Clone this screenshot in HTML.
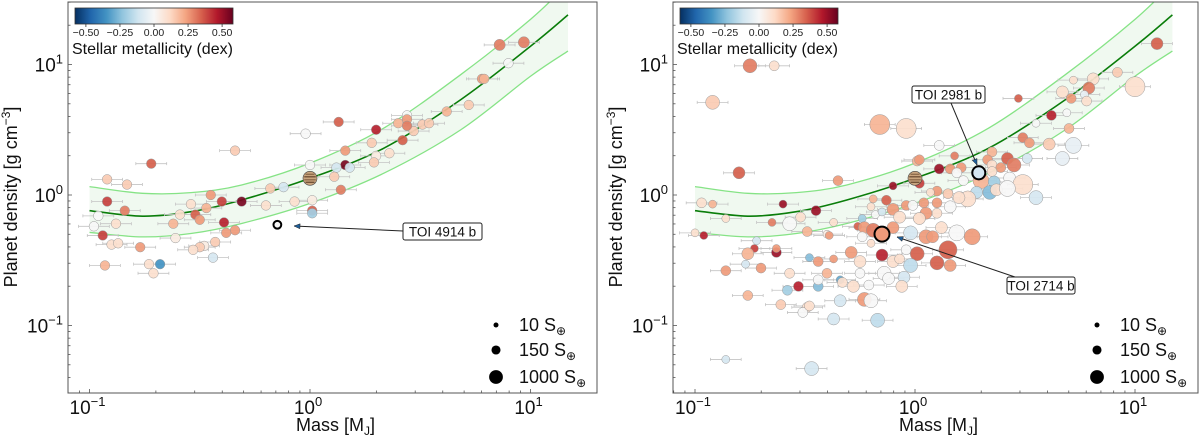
<!DOCTYPE html>
<html><head><meta charset="utf-8">
<style>
html,body{margin:0;padding:0;background:#fff;}
svg{display:block;font-family:"Liberation Sans","DejaVu Sans",sans-serif;}
</style></head>
<body>
<svg id="chart" width="1200" height="437" viewBox="0 0 1200 437" xmlns="http://www.w3.org/2000/svg">
<defs>
<linearGradient id="cbgrad" x1="0" x2="1" y1="0" y2="0">
<stop offset="0" stop-color="#053061"/><stop offset="0.1" stop-color="#2166ac"/><stop offset="0.2" stop-color="#4393c3"/><stop offset="0.3" stop-color="#92c5de"/><stop offset="0.4" stop-color="#d1e5f0"/><stop offset="0.5" stop-color="#f7f7f7"/><stop offset="0.6" stop-color="#fddbc7"/><stop offset="0.7" stop-color="#f4a582"/><stop offset="0.8" stop-color="#d6604d"/><stop offset="0.9" stop-color="#b2182b"/><stop offset="1" stop-color="#67001f"/>
</linearGradient>
<clipPath id="clipL"><rect x="68" y="2" width="529" height="391"/></clipPath>
<clipPath id="clipR"><rect x="673" y="2" width="525" height="391"/></clipPath>
</defs>
</svg>
<script>
// ---- model curve (log10 mass, log10 density) ----
const curveMassLog = [-1.0,-0.76,-0.54,-0.31,0.0,0.335,0.684,1.0,1.17];
const curveMidLog  = [-0.12,-0.162,-0.128,-0.038,0.128,0.359,0.731,1.14,1.38];
const curveUpLog   = [0.064,0.013,0.018,0.077,0.244,0.513,0.923,1.346,1.62];
const curveLowLog  = [-0.287,-0.321,-0.295,-0.218,-0.064,0.167,0.5,0.91,1.103];
// ---- left panel sample ----
const leftMassLog = [0.86,0.97,0.90,0.78,0.79,0.72,0.62,0.44,0.44,0.40,
 0.51,0.54,0.47,0.44,0.42,0.13,0.30,-0.02,0.28,0.16,
 0.36,0.30,0.29,0.16,0.12,0.18,0.00,0.11,0.14,-0.18,
 -0.12,-0.07,0.01,0.01,0.01,-0.20,-0.31,-0.40,-0.45,-0.47,
 -0.54,-0.59,-0.52,-0.50,-0.39,-0.62,-0.72,-0.34,-0.92,-0.83,
 -0.92,-0.84,-0.96,-0.88,-0.98,-0.94,-0.61,-0.34,-0.38,-0.90,
 -0.87,-0.77,-0.48,-0.43,-0.50,-0.53,-0.44,-0.93,-0.73,-0.68,-0.71];
const leftDensityLog = [1.15,1.17,1.01,0.89,0.89,0.69,0.64,0.61,0.58,0.55,
 0.54,0.55,0.49,0.53,0.42,0.56,0.50,0.47,0.40,0.34,
 0.32,0.30,0.25,0.23,0.21,0.21,0.23,0.14,0.04,0.05,
 0.06,-0.05,-0.04,-0.12,-0.14,-0.08,-0.05,-0.05,0.00,-0.10,
 -0.07,-0.15,-0.15,-0.19,-0.21,-0.22,0.24,0.34,0.12,0.08,
 -0.05,-0.12,-0.16,-0.22,-0.24,-0.31,-0.33,-0.27,-0.29,-0.38,
 -0.37,-0.40,-0.39,-0.36,-0.40,-0.42,-0.48,-0.54,-0.53,-0.53,-0.60];
const leftFeH = [.3,.3,0,.25,.2,.15,.2,0,.25,.2,
 .15,.15,.15,.3,.35,.35,.45,0,.15,.25,
 .1,.05,.15,.55,-.1,-.1,0,.15,.3,.15,
 -.1,.1,.05,.35,-.2,.1,.55,.4,.25,.2,
 .1,.1,.35,.25,.45,.2,.35,.15,.15,.15,
 .4,.3,0,.1,0,.4,.05,.25,.25,.1,
 .1,.25,.05,.15,.15,.1,-.1,.2,.1,-.35,.1];
const leftFlux = [400,400,200,200,200,200,200,200,200,200,
 200,200,200,200,200,200,200,200,200,200,
 200,200,200,200,200,200,200,200,200,200,
 200,200,200,200,200,200,200,200,200,200,
 200,200,200,200,200,200,200,200,200,200,
 200,200,200,200,200,200,200,200,200,200,
 200,200,200,200,200,200,200,200,200,200,200];
// ---- right panel sample ----
const rightMassLog = [-0.92,-0.16,-0.04,-0.80,-0.35,-0.10,0.01,-0.97,-0.92,-0.60,
 -0.45,-0.86,-0.65,-0.57,-0.52,-0.37,-1.00,-0.96,-0.49,-0.40,
 -0.39,-0.72,-0.73,-0.76,-0.63,-0.63,-0.77,-0.70,-0.86,-0.48,
 -0.44,-0.37,-0.57,-0.53,-0.58,-0.44,-0.44,-0.40,-0.34,-0.33,
 -0.28,-0.76,-0.61,-0.49,-0.51,-0.34,-0.23,-0.20,-0.37,-0.17,
 -0.86,-0.47,-0.19,-0.13,-0.10,-0.20,-0.18,-0.15,-0.24,-0.26,
 -0.23,-0.19,-0.10,-0.07,-0.04,-0.01,0.02,-0.02,0.05,-0.15,
 -0.04,0.01,-0.29,-0.25,-0.24,-0.20,-0.10,-0.07,-0.02,-0.14,
 -0.05,-0.06,-0.12,-0.25,-0.21,1.10,0.92,0.81,0.72,1.00,
 0.79,0.67,0.77,0.78,0.71,0.47,0.62,0.69,0.55,0.70,
 0.49,0.52,0.61,0.72,0.67,0.51,0.11,0.18,0.02,0.11,
 0.16,0.21,0.19,0.22,0.30,0.35,0.33,0.35,0.42,0.45,
 0.39,0.35,0.43,0.49,0.36,0.34,0.37,0.28,0.24,0.20,
 0.15,0.10,0.07,0.02,0.55,0.42,0.10,0.04,0.10,0.16,
 0.05,0.02,0.12,0.08,0.19,0.26,0.15,0.10,0.16,-0.75,-0.64,-0.48];
const rightDensityLog = [0.71,0.54,0.51,0.17,0.11,0.07,0.26,-0.06,-0.07,-0.07,
 -0.12,-0.18,-0.21,-0.22,-0.17,-0.21,-0.29,-0.31,-0.28,-0.30,
 -0.31,-0.35,-0.41,-0.45,-0.44,-0.41,-0.53,-0.56,-0.58,-0.48,
 -0.51,-0.49,-0.60,-0.70,-0.73,-0.70,-0.65,-0.60,-0.65,-0.67,
 -0.70,-0.77,-0.84,-0.86,-0.90,-0.81,-0.80,-0.81,-0.95,-0.96,
 -1.26,-1.33,-0.03,-0.04,-0.11,-0.09,-0.15,-0.13,-0.18,-0.24,
 -0.25,-0.27,-0.25,-0.17,-0.08,-0.08,-0.18,-0.29,-0.32,-0.46,
 -0.42,-0.45,-0.44,-0.51,-0.32,-0.37,-0.51,-0.49,-0.54,-0.60,
 -0.63,-0.70,-0.64,-0.60,-0.69,1.16,0.94,0.89,0.88,0.83,
 0.82,0.79,0.77,0.72,0.74,0.74,0.61,0.63,0.55,0.51,
 0.44,0.40,0.39,0.38,0.28,0.28,0.38,0.30,0.27,0.20,
 0.20,0.21,0.17,0.11,0.11,0.33,0.27,0.23,0.28,0.23,
 0.21,0.18,0.13,0.08,0.10,0.02,0.04,0.02,-0.03,-0.02,
 0.01,0.03,0.02,0.09,-0.02,0.05,-0.06,-0.06,-0.14,-0.09,
 -0.14,-0.18,-0.25,-0.32,-0.29,-0.32,-0.42,-0.52,-0.54,0.99,0.99,-0.85];
const rightFeH = [.15,.2,.1,.35,.25,.5,.2,.1,.2,.5,
 .5,.1,.3,0,.1,.1,.1,.45,.2,.05,
 .25,-.1,.4,.2,.5,.25,-.1,.25,.25,-.25,
 .25,.25,.1,.45,-.2,-.25,0,.2,-.3,.1,
 .1,.2,.15,.1,0,-.1,.25,0,-.1,-.15,
 -.1,-.1,.2,.35,.25,.1,0,-.1,-.2,.35,
 .25,.3,.25,.1,.25,0,.1,-.1,.25,.45,
 0,.35,.25,.1,0,.1,.1,.1,-.15,0,
 -.1,.1,0,0,0,.35,.15,.1,.1,.1,
 .3,.1,-.05,.1,.25,.35,.45,0,0,.2,
 .3,.25,.15,-.05,-.05,-.1,0,.3,.25,.5,
 .25,.25,0,0,.2,.2,.25,.1,.35,.3,
 .25,.1,0,.1,-.2,-.25,.1,-.15,.1,.1,
 .15,.25,.1,.4,-.1,0,.25,.25,.1,0,
 .25,.1,.1,.25,0,.25,.35,.35,.25,.3,.1,.1];
const rightFlux = [1080,5400,5400,540,230,85,230,230,85,85,
 230,85,85,1080,230,85,85,85,230,85,
 85,85,85,540,230,85,85,230,230,85,
 230,85,230,230,230,230,230,230,85,230,
 540,230,230,230,230,540,1080,1080,540,1080,
 85,1080,85,230,540,85,85,85,85,85,
 540,1080,540,540,230,230,540,1080,1080,540,
 230,1080,540,540,230,85,540,230,1080,1080,
 540,540,540,230,230,540,230,540,85,5400,
 540,540,85,230,230,85,230,85,85,230,
 230,230,540,2000,1080,230,230,85,230,230,
 230,230,230,230,2000,230,230,230,540,1080,
 230,230,540,5400,540,1080,540,540,2000,540,
 230,230,85,230,1080,2000,230,230,230,540,
 540,540,540,540,2000,2000,3400,1080,540,1080,230,230];
// highlighted planets
const toiNames = ["TOI 4914 b","TOI 2714 b","TOI 2981 b"];
const toiMassLog = [-0.148,-0.15,0.29];
const toiDensityLog = [-0.228,-0.30,0.17];
const toiFeH = [0.0,0.25,-0.1];
const toiFlux = [40,1080,540];
const legendFlux = [10,150,1000];
const xTickExp = [-1,0,1];
const yTickExp = [-1,0,1];
const cbTicks = [-0.5,-0.25,0,0.25,0.5];

const NS="http://www.w3.org/2000/svg";
const svg=document.getElementById('chart');
function mk(tag,attrs,parent){const e=document.createElementNS(NS,tag);for(const k in attrs)e.setAttribute(k,attrs[k]);(parent||svg).appendChild(e);return e;}
const stops=[[0,[5,48,97]],[.1,[33,102,172]],[.2,[67,147,195]],[.3,[146,197,222]],[.4,[209,229,240]],[.5,[247,247,247]],[.6,[253,219,199]],[.7,[244,165,130]],[.8,[214,96,77]],[.9,[178,24,43]],[1,[103,0,31]]];
function cmap(v){let t=(v+0.58)/1.16;t=Math.max(0,Math.min(1,t));for(let i=1;i<stops.length;i++){if(t<=stops[i][0]){const a=stops[i-1],b=stops[i];const f=(t-a[0])/(b[0]-a[0]);const c=a[1].map((x,j)=>Math.round(x+(b[1][j]-x)*f));return `rgb(${c[0]},${c[1]},${c[2]})`;}}return 'rgb(103,0,31)';}
function rad(S){return 2.5*Math.pow(S/10,0.22);}
// Catmull-Rom smoothing into cubic bezier segments
function smooth(pts,start){
  let d=start?('M'+pts[0][0]+','+pts[0][1]):('L'+pts[0][0]+','+pts[0][1]);
  for(let i=0;i<pts.length-1;i++){
    const p0=pts[Math.max(0,i-1)],p1=pts[i],p2=pts[i+1],p3=pts[Math.min(pts.length-1,i+2)];
    const c1=[p1[0]+(p2[0]-p0[0])/6,p1[1]+(p2[1]-p0[1])/6];
    const c2=[p2[0]-(p3[0]-p1[0])/6,p2[1]-(p3[1]-p1[1])/6];
    d+=`C${c1[0]},${c1[1]} ${c2[0]},${c2[1]} ${p2[0]},${p2[1]}`;
  }
  return d;
}

function drawPanel(cfg,mass,rho,feh,flux,name){
  const X=lm=>cfg.x0+lm*cfg.xd, Y=lr=>195-lr*130.5;
  const g=mk('g',{'clip-path':`url(#${cfg.clip})`});
  
  
  const up=curveMassLog.map((m,i)=>[X(m),Y(curveUpLog[i])]);
  const lo=curveMassLog.map((m,i)=>[X(m),Y(curveLowLog[i])]);
  const mid=curveMassLog.map((m,i)=>[X(m),Y(curveMidLog[i])]);
  const band=mk('path',{d:smooth(up,true)+smooth(lo.slice().reverse(),false)+'Z',fill:'rgba(0,150,0,0.06)',stroke:'none'},g);
  
  
  [[up,'#86e386',1.3,'upper-bound-line'],[lo,'#86e386',1.3,'lower-bound-line'],[mid,'#0a7d0a',1.6,'model-line']].forEach(([pts,col,w,nm])=>{
    const p=mk('path',{d:smooth(pts,true),fill:'none',stroke:col,'stroke-width':w},g);
    
    
  });
  mass.forEach((m,i)=>{
    const e=0.07, y=Y(rho[i]);
    const eb=mk('path',{d:`M${X(m-e)},${y}H${X(m+e)}M${X(m-e)},${y-1.5}v3M${X(m+e)},${y-1.5}v3`,stroke:'#c4c4c4','stroke-width':0.8,fill:'none'},g);
    
    
  });
  mass.forEach((m,i)=>{
    const c=mk('circle',{cx:X(m),cy:Y(rho[i]),r:rad(flux[i]),fill:cmap(feh[i]),stroke:'#999','stroke-width':0.5,'fill-opacity':0.92},g);
    
    
  });
  const jx=X(0),jy=Y(0.128);
  const jg=mk('g',{},g);
  
  
  mk('circle',{cx:jx,cy:jy,r:7,fill:'#c9a57e',stroke:'#444','stroke-width':0.6},jg);
  [-4,-1.5,1.5,4].forEach((o,k)=>mk('line',{x1:jx-6.5+Math.abs(o)/2,x2:jx+6.5-Math.abs(o)/2,y1:jy+o,y2:jy+o,stroke:k%2?'#6e4e33':'#8c6a4a','stroke-width':1.3},jg));
  const fr=mk('rect',{x:cfg.L,y:2,width:cfg.R-cfg.L,height:391,fill:'none',stroke:'#555','stroke-width':1});
  
  
  for(let dd=-2;dd<=1;dd++)for(let k=1;k<=9;k++){
    const lx=dd+Math.log10(k), px=X(lx);
    if(px>cfg.L&&px<cfg.R){const t=mk('line',{x1:px,x2:px,y1:393,y2:393-(k==1?4:2.5),stroke:'#555','stroke-width':0.8});}
    const py=Y(lx);
    if(py>2&&py<393){const t=mk('line',{x1:cfg.L,x2:cfg.L+(k==1?4:2.5),y1:py,y2:py,stroke:'#555','stroke-width':0.8});}
  }
  xTickExp.forEach(e=>{
    const t=mk('text',{x:X(e)-2,y:414,'font-size':19,'text-anchor':'middle',fill:'#111'});
    
    
    t.textContent='10';
    const s=mk('tspan',{'font-size':13,dy:-8},t);s.textContent=e<0?'\u2212'+(-e):String(e);
  });
  yTickExp.forEach(e=>{
    const t=mk('text',{x:cfg.L-5,y:Y(e)+7,'font-size':19,'text-anchor':'end',fill:'#111'});
    
    
    t.textContent='10';
    const s=mk('tspan',{'font-size':13,dy:-8},t);s.textContent=e<0?'\u2212'+(-e):String(e);
  });
  const xl=mk('text',{x:(cfg.L+cfg.R)/2+3,y:431,'font-size':18,'text-anchor':'middle',fill:'#111'});
  
  
  xl.textContent='Mass [M';
  const sj=mk('tspan',{'font-size':12,dy:4},xl);sj.textContent='J';
  const sj2=mk('tspan',{dy:-4},xl);sj2.textContent=']';
  const yl=mk('text',{x:0,y:0,'font-size':18,'text-anchor':'middle',fill:'#111',transform:`translate(${cfg.L-51},197) rotate(-90)`});
  
  
  yl.textContent='Planet density [g cm';
  const sy=mk('tspan',{'font-size':12,dy:-7},yl);sy.textContent='\u22123';
  const sy2=mk('tspan',{dy:7},yl);sy2.textContent=']';
  const cb=mk('g',{});
  
  
  const cx0=cfg.L+7, cw=158;
  mk('rect',{x:cx0,y:8,width:cw,height:16,fill:'url(#cbgrad)',stroke:'#333','stroke-width':0.8},cb);
  cbTicks.forEach(v=>{
    const px=cx0+(v+0.58)/1.16*cw;
    mk('line',{x1:px,x2:px,y1:24,y2:27,stroke:'#333','stroke-width':0.8},cb);
    const t=mk('text',{x:px,y:36,'font-size':10.5,'text-anchor':'middle',fill:'#222'},cb);
    
    
    t.textContent=(v<0?'\u2212':'')+Math.abs(v).toFixed(2);
  });
  const ct=mk('text',{x:cx0-3,y:54,'font-size':16,fill:'#111'},cb);
  
  
  ct.textContent='Stellar metallicity (dex)';
  legendFlux.forEach((S,i)=>{
    const ly=[325,350,377][i];
    const c=mk('circle',{cx:cfg.R-101,cy:ly,r:rad(S),fill:'#000'});
    
    
    const t=mk('text',{x:cfg.R-78,y:ly+6,'font-size':18,fill:'#111'});
    
    
    t.textContent=S+' S';
    const s=mk('tspan',{'font-size':12,dy:4},t);s.textContent='\u2295';
  });
  return {X,Y};
}
const L=drawPanel({x0:310,xd:220.5,L:68,R:597,clip:'clipL'},leftMassLog,leftDensityLog,leftFeH,leftFlux,'left-panel');
const R=drawPanel({x0:915,xd:220,L:673,R:1198,clip:'clipR'},rightMassLog,rightDensityLog,rightFeH,rightFlux,'right-panel');

function toi(P,i,bx,by,bw,ax,ay,tx,ty){
  const x=P.X(toiMassLog[i]),y=P.Y(toiDensityLog[i]);
  const c=mk('circle',{cx:x,cy:y,r:rad(toiFlux[i])+0.5,fill:cmap(toiFeH[i]),stroke:'#000','stroke-width':2});
  
  
  const ar=mk('line',{x1:ax,y1:ay,x2:tx,y2:ty,stroke:'#222','stroke-width':1});
  
  
  const ang=Math.atan2(ty-ay,tx-ax);
  const h=mk('path',{d:`M${tx},${ty}L${tx-6*Math.cos(ang)+2.5*Math.sin(ang)},${ty-6*Math.sin(ang)-2.5*Math.cos(ang)}L${tx-6*Math.cos(ang)-2.5*Math.sin(ang)},${ty-6*Math.sin(ang)+2.5*Math.cos(ang)}Z`,fill:'#1f5f9a',stroke:'#222','stroke-width':0.5});
  
  
  const b=mk('rect',{x:bx,y:by,width:bw,height:17,rx:2,fill:'#fff',stroke:'#222','stroke-width':1});
  
  
  const t=mk('text',{x:bx+bw/2,y:by+13.5,'font-size':13.5,'text-anchor':'middle',fill:'#111'});
  
  
  t.textContent=toiNames[i];
}
toi(L,0,403,223,79,403,231,294,226);
toi(R,1,1007,277,68,1015,277,897,237);
toi(R,2,912,86,73,951,103,977,165);
</script>
</body></html>
